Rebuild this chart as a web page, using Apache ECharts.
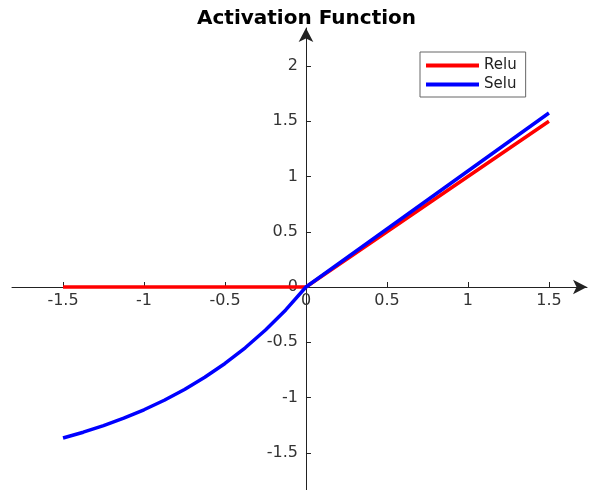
<!DOCTYPE html>
<html>
<head>
<meta charset="utf-8">
<script src="https://cdn.jsdelivr.net/npm/echarts@6/dist/echarts.min.js"></script>
<style>
  html, body { margin: 0; padding: 0; background: #fff; }
  #chart { width: 592px; height: 490px; }
</style>
</head>
<body>
<div id="chart"></div>
<script>
// Sample inputs and the two activation outputs
const reluX = [-1.5, 0, 1.5];
const reluY = [0, 0, 1.5];
const seluX = [
  -1.5, -1.375, -1.25, -1.125, -1, -0.875, -0.75, -0.625, -0.5, -0.375, -0.25, -0.125,
  0, 0.5, 1, 1.5
];
const seluY = [
  -1.366, -1.314, -1.254, -1.187, -1.111, -1.025, -0.927, -0.817, -0.692, -0.550, -0.389, -0.207,
  0, 0.525, 1.05, 1.575
];

// Tick positions on each axis
const xTicks = [-1.5, -1, -0.5, 0, 0.5, 1, 1.5];
const yTicks = [-1.5, -1, -0.5, 0, 0.5, 1, 1.5, 2];

// Visible ranges of the two axes
const xRange = [-1.815, 1.735];
const yRange = [-1.837, 2.344];

const zip = (xs, ys) => xs.map((x, i) => [x, ys[i]]);

const font = 'DejaVu Sans';
const axisColor = '#222';
const labelColor = '#333';
const gridBox = { left: 12, right: 5, top: 28, bottom: 0 };

function axisCommon(ticks, range, labelMargin) {
  return {
    type: 'value',
    min: range[0],
    max: range[1],
    axisLine: {
      onZero: false,
      symbol: ['none', 'arrow'],
      symbolSize: [11, 14],
      lineStyle: { color: axisColor, width: 1 }
    },
    axisTick: { inside: true, length: 5, customValues: ticks, lineStyle: { color: axisColor } },
    axisLabel: {
      customValues: ticks,
      margin: labelMargin,
      fontFamily: font,
      fontSize: 16,
      color: labelColor
    },
    splitLine: { show: false }
  };
}

const chart = echarts.init(document.getElementById('chart'), null, { renderer: 'canvas' });
chart.setOption({
  animation: false,
  backgroundColor: '#fff',
  title: {
    text: 'Activation Function',
    left: 192,
    top: 4,
    textStyle: { fontFamily: font, fontWeight: 'bold', fontSize: 20, color: '#000' }
  },
  legend: {
    orient: 'vertical',
    left: 420,
    top: 52,
    padding: [4, 9, 3, 6],
    itemWidth: 53,
    itemHeight: 4,
    itemGap: 0,
    icon: 'rect',
    borderColor: '#666',
    borderWidth: 1,
    backgroundColor: '#fff',
    textStyle: { fontFamily: font, fontSize: 15, lineHeight: 19, color: '#222' },
    data: ['Relu', 'Selu']
  },
  grid: Object.assign({ outerBoundsMode: 'none', containLabel: false }, gridBox),
  xAxis: axisCommon(xTicks, xRange, 6),
  yAxis: axisCommon(yTicks, yRange, 8),
  series: [
    {
      name: 'Relu',
      type: 'line',
      data: zip(reluX, reluY),
      showSymbol: false,
      symbol: 'none',
      color: '#ff0000',
      lineStyle: { color: '#ff0000', width: 3.5 },
      z: 2
    },
    {
      name: 'Selu',
      type: 'line',
      data: zip(seluX, seluY),
      smooth: false,
      showSymbol: false,
      symbol: 'none',
      color: '#0000ff',
      lineStyle: { color: '#0000ff', width: 3.5, join: 'round' },
      z: 3
    }
  ]
});

// Move both axes (line, ticks and labels) so they cross at the origin
const origin = chart.convertToPixel({ gridIndex: 0 }, [0, 0]);
const corner = chart.convertToPixel({ gridIndex: 0 }, [xRange[0], yRange[0]]);
chart.setOption({
  xAxis: { offset: -(corner[1] - origin[1]) },
  yAxis: { offset: -(origin[0] - corner[0]) }
});
</script>
</body>
</html>
